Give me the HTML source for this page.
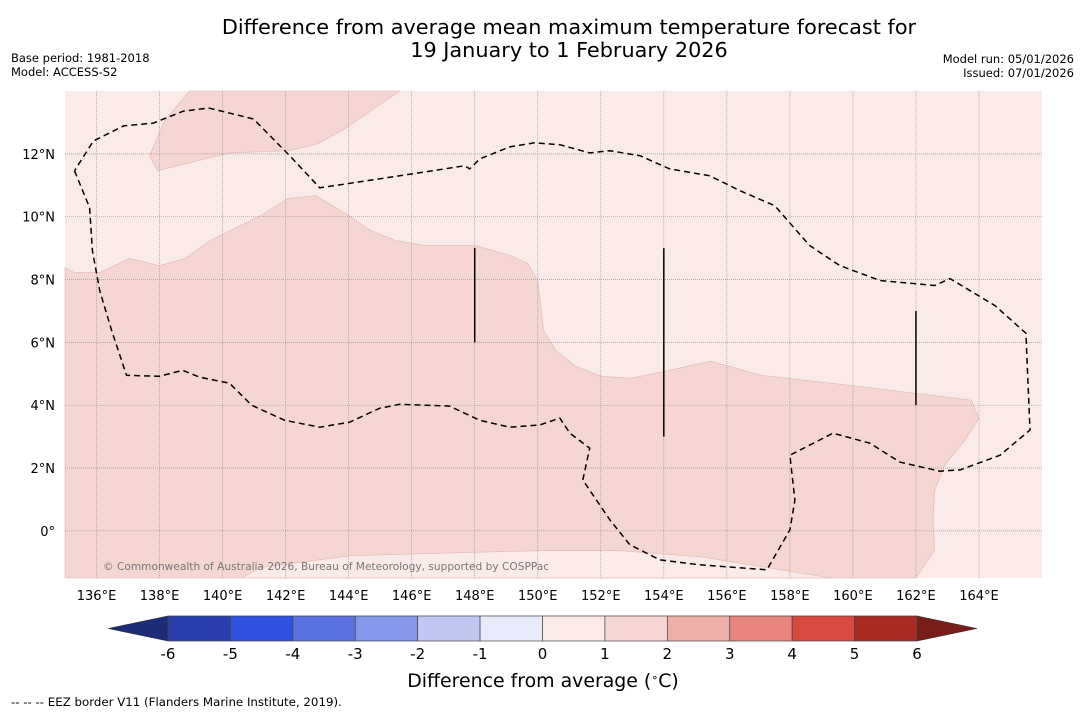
<!DOCTYPE html>
<html><head><meta charset="utf-8">
<style>
html,body{margin:0;padding:0;background:#fff;}
body{width:1085px;height:713px;overflow:hidden;font-family:"Liberation Sans","DejaVu Sans",sans-serif;}
</style></head>
<body>
<svg id="chart" width="1085" height="713" xmlns="http://www.w3.org/2000/svg" font-family="'DejaVu Sans','Liberation Sans',sans-serif">
<text x="569" y="34" font-size="20.8" text-anchor="middle" fill="#000">Difference from average mean maximum temperature forecast for</text>
<text x="569" y="57" font-size="20.8" text-anchor="middle" fill="#000">19 January to 1 February 2026</text>
<text x="11" y="62" font-size="11.5">Base period: 1981-2018</text>
<text x="11" y="76" font-size="11.5">Model: ACCESS-S2</text>
<text x="1074" y="63" font-size="11.5" text-anchor="end">Model run: 05/01/2026</text>
<text x="1074" y="77" font-size="11.5" text-anchor="end">Issued: 07/01/2026</text>
<g id="map"></g>
<g id="cbar"></g>
<text x="543" y="687" font-size="18.9" text-anchor="middle">Difference from average (<tspan baseline-shift="super" font-size="11">∘</tspan>C)</text>
<text x="11" y="706" font-size="11.8">--  --  -- EEZ border V11 (Flanders Marine Institute, 2019).</text>
</svg>
<script>
// ---- data ----
const lonTicks=[136,138,140,142,144,146,148,150,152,154,156,158,160,162,164];
const latTicks=[0,2,4,6,8,10,12];
const cbarLevels=[-6,-5,-4,-3,-2,-1,0,1,2,3,4,5,6];
const cbarColors=["#2a3fad","#3050e0","#5a72e0","#8696ea","#c0c8f2","#e8ecfa","#fbeae8","#f5d6d3","#eeafaa","#e8857e","#da4a42","#aa2b24"];
const anomNorth=[[137.68,11.94],[137.94,11.46],[140.22,12.03],[142.13,12.1],[143.02,12.32],[143.87,12.79],[145.62,14],[138.95,14],[138.16,13.05]];
const anomMain=[[135,8.38],[135.3,8.22],[136.1,8.22],[137.05,8.67],[138,8.44],[138.8,8.67],[139.6,9.24],[141.2,10.03],[142.06,10.57],[142.95,10.67],[143.9,10.1],[144.7,9.56],[145.5,9.24],[146.44,9.08],[148.03,9.08],[149.14,8.76],[149.68,8.51],[150,7.97],[150.19,6.38],[150.57,5.75],[151.2,5.24],[152,4.92],[152.95,4.86],[153.9,5.05],[155.49,5.4],[157.08,4.95],[159.94,4.63],[163.75,4.16],[164,3.59],[163.56,2.89],[162.92,2.1],[162.6,1.3],[162.54,0.35],[162.6,-0.6],[162,-1.5],[135,-1.5]];
const lightSouth=[[140.6,-1.5],[141.2,-1.17],[144.06,-0.79],[147.24,-0.7],[150.1,-0.63],[152.6,-0.63],[155.2,-0.83],[157.71,-1.24],[159.3,-1.5]];
const eez=[[135.3,11.46],[135.78,10.29],[135.87,8.92],[136.1,7.65],[136.48,6.38],[136.95,4.95],[138,4.92],[138.73,5.11],[139.27,4.89],[140.22,4.7],[140.92,4],[141.97,3.52],[143.08,3.3],[144.03,3.46],[144.98,3.9],[145.62,4.03],[147.2,3.97],[148.16,3.52],[149.11,3.3],[150.06,3.37],[150.7,3.59],[151.02,3.11],[151.65,2.63],[151.43,1.62],[152.29,0.35],[152.92,-0.44],[153.87,-0.92],[155.14,-1.08],[157.27,-1.24],[158,0.03],[158.16,0.98],[158,2.41],[158.63,2.73],[159.37,3.11],[160.54,2.79],[161.49,2.19],[162.76,1.9],[163.4,1.94],[164.67,2.41],[165.62,3.21],[165.49,6.29],[164.51,7.17],[163.08,8.03],[162.6,7.81],[160.86,7.97],[159.59,8.44],[158.63,9.08],[157.52,10.35],[156.41,10.83],[155.46,11.3],[154.19,11.52],[153.24,11.94],[152.29,12.1],[151.65,12.03],[150.7,12.29],[149.9,12.35],[149.11,12.22],[148.16,11.84],[147.84,11.52],[147.68,11.62],[145.62,11.3],[143.08,10.92],[142.13,11.94],[140.98,13.11],[139.56,13.46],[138.76,13.36],[137.81,12.98],[136.86,12.89],[135.9,12.41],[135.3,11.46]];
const vLines=[[148,6,9],[154,3,9],[162,4,7]];
// ---- axes ----
const X0=65,X1=1042,Y0=91,Y1=578,LON0=135,LON1=166,LAT0=-1.5,LAT1=14;
function xs(lon){return X0+(lon-LON0)/(LON1-LON0)*(X1-X0);}
function ys(lat){return Y1-(lat-LAT0)/(LAT1-LAT0)*(Y1-Y0);}
const NS="http://www.w3.org/2000/svg";
function mk(tag,attrs,parent){const e=document.createElementNS(NS,tag);for(const k in attrs)e.setAttribute(k,attrs[k]);parent.appendChild(e);return e;}
const map=document.getElementById('map');
const pts=a=>a.map(p=>xs(p[0]).toFixed(1)+','+ys(p[1]).toFixed(1)).join(' ');
let bg=mk('rect',{x:X0,y:Y0,width:X1-X0,height:Y1-Y0,fill:'#fbebe8'},map);


let p1=mk('polygon',{points:pts(anomNorth),fill:'#f5d6d3',stroke:'#e0b8b4','stroke-width':0.6},map);


let p2=mk('polygon',{points:pts(anomMain),fill:'#f5d6d3',stroke:'#e0b8b4','stroke-width':0.6},map);


let p3=mk('polygon',{points:pts(lightSouth),fill:'#fbebe8',stroke:'#e0b8b4','stroke-width':0.6},map);


lonTicks.forEach(l=>{
  let g=mk('line',{x1:xs(l),x2:xs(l),y1:Y0,y2:Y1,stroke:'#999','stroke-width':0.7,'stroke-dasharray':'1,1'},map);
  
  
  let t=mk('text',{x:xs(l),y:600,'font-size':13,'text-anchor':'middle'},map);
  t.textContent=l+'°E';
  
  
});
latTicks.forEach(l=>{
  let g=mk('line',{x1:X0,x2:X1,y1:ys(l),y2:ys(l),stroke:'#999','stroke-width':0.7,'stroke-dasharray':'1,1'},map);
  
  
  let t=mk('text',{x:55,y:ys(l)+5,'font-size':13,'text-anchor':'end'},map);
  t.textContent=l===0?'0°':l+'°N';
  
  
});
vLines.forEach(v=>{
  let l=mk('line',{x1:xs(v[0]),x2:xs(v[0]),y1:ys(v[1]),y2:ys(v[2]),stroke:'#000','stroke-width':1.5},map);
  
  
});
let ez=mk('polyline',{points:pts(eez),fill:'none',stroke:'#000','stroke-width':1.5,'stroke-dasharray':'6,4'},map);


let cp=mk('text',{x:103,y:570,'font-size':10.6,fill:'#777'},map);
cp.textContent='© Commonwealth of Australia 2026, Bureau of Meteorology, supported by COSPPac';


// ---- colorbar ----
const cb=document.getElementById('cbar');
const CX0=168,CX1=917,CY0=616,CY1=641;
function cx(v){return CX0+(v-cbarLevels[0])/(cbarLevels[cbarLevels.length-1]-cbarLevels[0])*(CX1-CX0);}
let lt=mk('polygon',{points:`108,${(CY0+CY1)/2} ${CX0},${CY0} ${CX0},${CY1}`,fill:'#1c2c78',stroke:'#333','stroke-width':0.6},cb);


let rt=mk('polygon',{points:`977,${(CY0+CY1)/2} ${CX1},${CY0} ${CX1},${CY1}`,fill:'#7a1c17',stroke:'#333','stroke-width':0.6},cb);


cbarColors.forEach((c,i)=>{
  let r=mk('rect',{x:cx(cbarLevels[i]),y:CY0,width:cx(cbarLevels[i+1])-cx(cbarLevels[i]),height:CY1-CY0,fill:c,stroke:'#444','stroke-width':0.7},cb);
  
  
});
cbarLevels.forEach(v=>{
  let t=mk('text',{x:cx(v),y:659,'font-size':15,'text-anchor':'middle'},cb);
  t.textContent=String(v);
  
  
});
</script>
</body></html>
